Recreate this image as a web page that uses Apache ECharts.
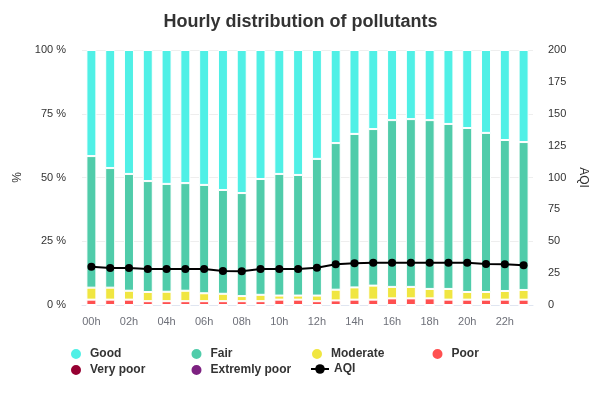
<!DOCTYPE html>
<html>
<head>
<meta charset="utf-8">
<script src="https://cdn.jsdelivr.net/npm/echarts@6/dist/echarts.min.js"></script>
<style>
    html, body { margin: 0; padding: 0; background: #fff; }
    #chart01 { width: 601px; height: 399px; }
</style>
</head>
<body>
<div id="chart01"></div>
<script>
// data
var hours = ['00h','01h','02h','03h','04h','05h','06h','07h','08h','09h','10h','11h',
    '12h','13h','14h','15h','16h','17h','18h','19h','20h','21h','22h','23h'];
var good = [41.6,46.3,48.6,51.4,52.5,52.2,52.9,54.9,56.1,50.6,48.6,49.0,
    42.7,36.5,32.9,31.0,27.5,27.1,27.5,29.0,30.6,32.5,35.3,36.1];
var fair = [51.6,46.9,45.8,43.5,42.3,42.2,42.5,40.7,40.4,45.4,47.7,47.3,
    53.6,57.5,60.2,61.4,65.4,65.8,66.2,64.7,64.3,62.4,59.2,58.0];
var moderate = [4.7,4.7,3.5,3.6,3.7,4.1,3.1,2.9,2.0,2.5,1.6,1.6,
    2.2,4.2,4.8,5.5,4.5,4.5,3.7,4.2,3.0,3.0,3.4,3.8];
var poor = [2.1,2.1,2.1,1.5,1.5,1.5,1.5,1.5,1.5,1.5,2.1,2.1,
    1.5,1.8,2.1,2.1,2.6,2.6,2.6,2.1,2.1,2.1,2.1,2.1];
var veryPoor = [0,0,0,0,0,0,0,0,0,0,0,0,0,0,0,0,0,0,0,0,0,0,0,0];
var extremlyPoor = [0,0,0,0,0,0,0,0,0,0,0,0,0,0,0,0,0,0,0,0,0,0,0,0];
var aqi = [30.0,29.0,29.0,28.2,28.2,28.2,28.2,26.7,26.4,28.2,28.2,28.2,
    29.3,31.9,32.7,33.2,33.2,33.2,33.2,33.2,33.2,32.2,31.9,31.1];
var pctTicks = [0, 25, 50, 75, 100];
var aqiMax = 200;

var names = ['Good','Fair','Moderate','Poor','Very poor','Extremly poor','AQI'];
var colors = ['#50f0e6','#50ccaa','#f0e641','#ff5050','#960032','#7d2181','#000000'];
var barData = [good, fair, moderate, poor, veryPoor, extremlyPoor];

var font = 'Liberation Sans, Arial, sans-serif';

var myChart = echarts.init(document.getElementById('chart01'));

var series = [];
// stack bottom-up: worst first so good ends on top
var order = [5, 4, 3, 2, 1, 0];
order.forEach(function (i) {
    series.push({
        name: names[i],
        type: 'bar',
        stack: 'pct',
        barWidth: 10,
        data: barData[i],
        itemStyle: { color: colors[i], borderColor: '#fff', borderWidth: 1 }
    });
});
series.push({
    name: 'AQI',
    type: 'line',
    yAxisIndex: 1,
    data: aqi,
    symbol: 'circle',
    symbolSize: 8,
    itemStyle: { color: '#000' },
    lineStyle: { color: '#000', width: 2 },
    z: 5
});

// one legend per item so they sit in an even 4-column grid
var legends = names.map(function (n, i) {
    return {
        data: n === 'AQI' ? [{ name: n }] : [{ name: n, icon: 'circle' }],
        left: 69 + (i % 4) * 120.5,
        top: 347 + Math.floor(i / 4) * 16,
        itemWidth: 18,
        itemHeight: 12,
        itemGap: 0,
        padding: 0,
        selectedMode: false,
        textStyle: { fontFamily: font, fontSize: 12, fontWeight: 'bold', color: '#333' }
    };
});

var option = {
    animation: false,
    color: colors,
    title: {
        text: 'Hourly distribution of pollutants',
        left: 'center',
        top: 8,
        textStyle: { fontFamily: font, fontSize: 18, fontWeight: 'bold', color: '#333' }
    },
    legend: legends,
    grid: { left: 82, right: 68, top: 50, bottom: 94 },
    xAxis: {
        type: 'category',
        data: hours,
        axisLine: { lineStyle: { color: '#E0E6F1' } },
        axisTick: { alignWithLabel: true, interval: 1, lineStyle: { color: '#E0E6F1' } },
        axisLabel: { interval: 1, fontFamily: font, fontSize: 11, color: '#6E7079', margin: 11 }
    },
    yAxis: [{
        type: 'value',
        min: pctTicks[0],
        max: pctTicks[pctTicks.length - 1],
        interval: 25,
        name: '%',
        nameLocation: 'middle',
        nameGap: 53,
        nameRotate: 90,
        nameTextStyle: { fontFamily: font, fontSize: 12, color: '#333' },
        axisLabel: { formatter: '{value} %', fontFamily: font, fontSize: 11, color: '#333', margin: 16 },
        splitLine: { lineStyle: { color: '#eee' } }
    }, {
        type: 'value',
        min: 0,
        max: aqiMax,
        interval: 25,
        name: 'AQI',
        nameLocation: 'middle',
        nameGap: 38,
        nameRotate: -90,
        nameTextStyle: { fontFamily: font, fontSize: 12, color: '#333' },
        axisLabel: { fontFamily: font, fontSize: 11, color: '#333', margin: 15 },
        splitLine: { show: false }
    }],
    series: series
};
myChart.setOption(option);
</script>
</body>
</html>
